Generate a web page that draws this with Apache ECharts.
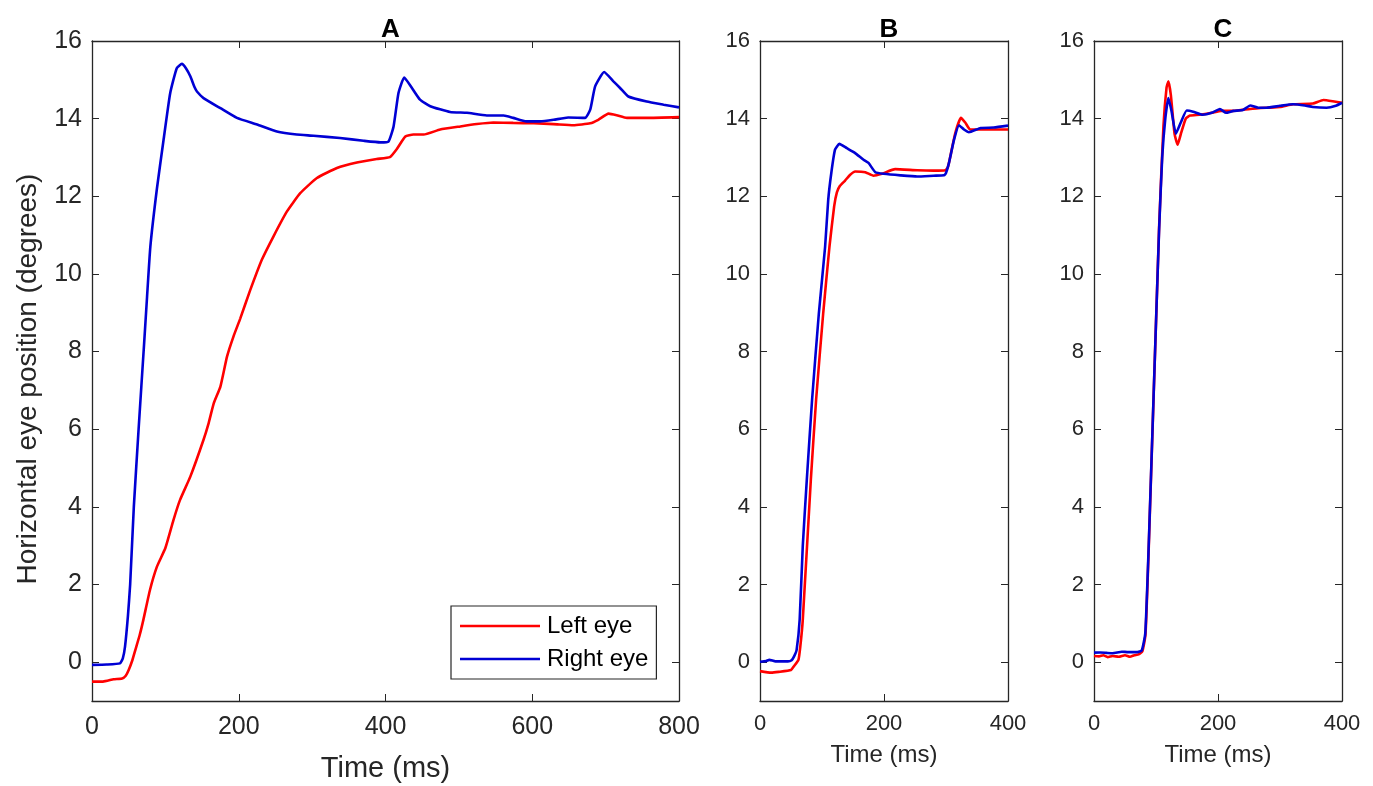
<!DOCTYPE html>
<html lang="en">
<head>
<meta charset="UTF-8">
<title>Eye position</title>
<script src="https://cdn.jsdelivr.net/npm/echarts@6/dist/echarts.min.js"></script>
<style>
  html, body { margin: 0; padding: 0; background: #fff; }
  #main { width: 1373px; height: 786px; }
</style>
</head>
<body>
<div id="main"></div>
<script>
// panel A
var aLeftT  = [0, 15, 29.5, 41, 46, 50, 55, 59, 65, 70, 79, 88.5, 100, 111, 120, 134, 152, 159, 166, 175, 184, 193, 202, 215, 231.6, 247.4, 265.7, 283.8, 306.5, 333.8, 361, 388, 406, 415.5, 427, 438, 452, 474.5, 502, 524.5, 547, 574, 602, 629, 656, 679, 690, 704, 715, 729, 756, 800];
var aLeftV  = [-0.5, -0.5, -0.44, -0.42, -0.35, -0.2, 0.05, 0.31, 0.7, 1.09, 1.86, 2.46, 2.94, 3.66, 4.18, 4.78, 5.73, 6.16, 6.67, 7.1, 7.87, 8.4, 8.85, 9.55, 10.37, 10.97, 11.61, 12.08, 12.47, 12.73, 12.87, 12.96, 13.01, 13.22, 13.54, 13.59, 13.59, 13.72, 13.8, 13.86, 13.9, 13.89, 13.88, 13.86, 13.83, 13.88, 13.97, 14.13, 14.09, 14.02, 14.02, 14.04];
var aRightT = [0, 20, 38, 42, 45, 49, 52, 57, 63.5, 71, 75, 79.5, 88.5, 97.5, 106.5, 115.5, 122.5, 128, 134, 140, 143, 152, 175, 197.5, 225, 252, 279, 302, 338, 370, 393, 404, 411, 417.7, 425.5, 436, 447, 461, 488, 511, 538, 561, 574, 592, 611, 629, 649, 672, 679, 685.7, 698, 710.6, 719.7, 731, 756, 779, 800];
var aRightV = [-0.07, -0.06, -0.03, 0.1, 0.4, 1.2, 2.0, 4.0, 6.0, 8.2, 9.4, 10.7, 12.2, 13.45, 14.65, 15.3, 15.41, 15.3, 15.09, 14.8, 14.7, 14.53, 14.27, 14.02, 13.85, 13.67, 13.59, 13.56, 13.5, 13.43, 13.39, 13.41, 13.8, 14.66, 15.06, 14.79, 14.49, 14.32, 14.17, 14.15, 14.08, 14.08, 14.02, 13.93, 13.93, 13.97, 14.03, 14.02, 14.23, 14.83, 15.2, 14.96, 14.79, 14.57, 14.44, 14.36, 14.29];

// panel B
var bLeftT  = [0, 18, 30, 50, 55, 62, 65, 69, 82, 90.5, 102, 112, 119.6, 124, 129, 137, 145, 153.6, 169.8, 183, 196.6, 218, 253.5, 280, 299, 303, 307, 315, 324, 331, 339, 356, 400];
var bLeftV  = [-0.23, -0.27, -0.25, -0.2, -0.1, 0.06, 0.4, 1.09, 4.7, 6.76, 9.0, 10.7, 11.74, 12.1, 12.27, 12.4, 12.55, 12.64, 12.62, 12.53, 12.58, 12.7, 12.67, 12.66, 12.67, 12.75, 13.03, 13.63, 14.02, 13.9, 13.72, 13.72, 13.72];
var bRightT = [0, 10, 15, 25, 45, 51, 55, 59, 64, 69, 75.5, 84, 95, 105, 110, 115, 121, 128, 140, 153, 167, 175, 186, 199.6, 226.6, 253.5, 280, 296.7, 300, 304.8, 313, 321, 329, 337, 356, 377, 400];
var bRightV = [0.01, 0.03, 0.06, 0.02, 0.02, 0.05, 0.15, 0.31, 1.1, 3.0, 4.7, 6.76, 9.0, 10.7, 11.9, 12.6, 13.2, 13.35, 13.24, 13.12, 12.94, 12.86, 12.62, 12.58, 12.54, 12.51, 12.53, 12.54, 12.6, 12.86, 13.46, 13.83, 13.72, 13.65, 13.76, 13.77, 13.82];

// panel C
var cLeftT  = [0, 8, 15, 22, 30, 40, 50, 58, 65, 72, 78, 83, 88, 105, 112, 117, 120, 124, 130, 135, 140, 148, 155, 170, 190, 205, 225, 252, 278, 300, 321, 353, 370, 385, 400];
var cLeftV  = [0.16, 0.15, 0.18, 0.13, 0.16, 0.14, 0.18, 0.14, 0.18, 0.2, 0.28, 0.7, 2.8, 11.2, 13.8, 14.8, 14.96, 14.6, 13.6, 13.33, 13.6, 14.0, 14.08, 14.1, 14.15, 14.2, 14.2, 14.25, 14.28, 14.3, 14.37, 14.39, 14.48, 14.45, 14.41];
var cRightT = [0, 10, 20, 30, 45, 55, 70, 77, 82.7, 88, 96, 105, 110, 115, 120, 125, 132, 140, 149.5, 160, 175, 190, 203, 213, 225, 240, 252, 265, 278, 300, 321, 340, 353, 375, 390, 400];
var cRightV = [0.245, 0.25, 0.24, 0.23, 0.27, 0.26, 0.26, 0.3, 0.74, 2.89, 6.8, 11.14, 13.0, 14.0, 14.53, 14.2, 13.61, 13.9, 14.21, 14.18, 14.1, 14.15, 14.25, 14.15, 14.2, 14.22, 14.34, 14.28, 14.28, 14.33, 14.37, 14.34, 14.3, 14.28, 14.33, 14.41];

var yTicks = [0, 2, 4, 6, 8, 10, 12, 14, 16];
var panelTitles = ['A', 'B', 'C'];
var legendNames = ['Left eye', 'Right eye'];

var RED = '#ff0000', BLUE = '#0000d4', AX = '#262626';
var FONT = '"Liberation Sans", Arial, Helvetica, sans-serif';

function zip(t, v) {
  var out = [];
  for (var i = 0; i < t.length; i++) out.push([t[i], v[i]]);
  return out;
}

var grids = [
  { left: 92, top: 41, width: 587, height: 660 },
  { left: 760, top: 41, width: 248, height: 660 },
  { left: 1094, top: 41, width: 248, height: 660 }
];
var xMax = [800, 400, 400];
var tickFont = [25, 22, 22];
var nameFont = [29, 24, 24];

var xAxes = [], yAxes = [], titles = [];
grids.forEach(function (g, i) {
  g.show = false;
  g.outerBoundsMode = 'none';
  var lineOpt = { show: true, onZero: false, lineStyle: { color: AX, width: 1.3 } };
  // bottom and top x axes
  xAxes.push({
    gridIndex: i, type: 'value', min: 0, max: xMax[i], interval: 200,
    position: 'bottom',
    name: 'Time (ms)', nameLocation: 'middle', nameGap: i === 0 ? 53 : 42,
    nameTextStyle: { fontSize: nameFont[i], color: AX, fontFamily: FONT },
    axisLine: lineOpt,
    axisTick: { show: true, inside: true, length: 7, lineStyle: { color: AX } },
    axisLabel: { fontSize: tickFont[i], color: AX, fontFamily: FONT, margin: i === 0 ? 14 : 12 },
    splitLine: { show: false }
  });
  xAxes.push({
    gridIndex: i, type: 'value', min: 0, max: xMax[i], interval: 200,
    position: 'top',
    axisLine: lineOpt,
    axisTick: { show: true, inside: true, length: 7, lineStyle: { color: AX } },
    axisLabel: { show: false },
    splitLine: { show: false }
  });
  yAxes.push({
    gridIndex: i, type: 'value', min: -1, max: 16, position: 'left',
    name: i === 0 ? 'Horizontal eye position (degrees)' : '',
    nameLocation: 'middle', nameGap: 50,
    nameTextStyle: { fontSize: 28, color: AX, fontFamily: FONT, padding: [0, 16, 0, 0] },
    axisLine: lineOpt,
    axisTick: { show: true, inside: true, length: 7, customValues: yTicks, lineStyle: { color: AX } },
    axisLabel: { fontSize: tickFont[i], color: AX, fontFamily: FONT, margin: 10, customValues: yTicks },
    splitLine: { show: false }
  });
  yAxes.push({
    gridIndex: i, type: 'value', min: -1, max: 16, position: 'right',
    axisLine: lineOpt,
    axisTick: { show: true, inside: true, length: 7, customValues: yTicks, lineStyle: { color: AX } },
    axisLabel: { show: false },
    splitLine: { show: false }
  });
  titles.push({
    text: panelTitles[i],
    left: g.left + g.width / 2, top: 12, textAlign: 'center',
    textStyle: { fontSize: 26, fontWeight: 'bold', color: '#000', fontFamily: FONT }
  });
});

function line(name, color, data, i) {
  return {
    name: name, type: 'line', xAxisIndex: i * 2, yAxisIndex: i * 2,
    data: data, showSymbol: false, smooth: 0.15,
    color: color, itemStyle: { color: color },
    lineStyle: { color: color, width: 2.6 }, animation: false, silent: true
  };
}

var series = [
  line('Left eye', RED, zip(aLeftT, aLeftV), 0),
  line('Right eye', BLUE, zip(aRightT, aRightV), 0),
  line('Left eye', RED, zip(bLeftT, bLeftV), 1),
  line('Right eye', BLUE, zip(bRightT, bRightV), 1),
  line('Left eye', RED, zip(cLeftT, cLeftV), 2),
  line('Right eye', BLUE, zip(cRightT, cRightV), 2)
];

var chart = echarts.init(document.getElementById('main'));
chart.setOption({
  backgroundColor: '#fff',
  animation: false,
  title: titles,
  grid: grids,
  xAxis: xAxes,
  yAxis: yAxes,
  legend: {
    orient: 'vertical', left: 451, top: 606,
    data: legendNames.map(function (n) { return { name: n, icon: 'rect' }; }),
    itemWidth: 80, itemHeight: 2.6, itemGap: 9,
    padding: [8, 8, 8, 9],
    borderColor: AX, borderWidth: 1.2, backgroundColor: '#fff',
    textStyle: { fontSize: 24, color: '#000', fontFamily: FONT, padding: [0, 0, 0, 2] },
    selectedMode: false
  },
  series: series
});
</script>
</body>
</html>
